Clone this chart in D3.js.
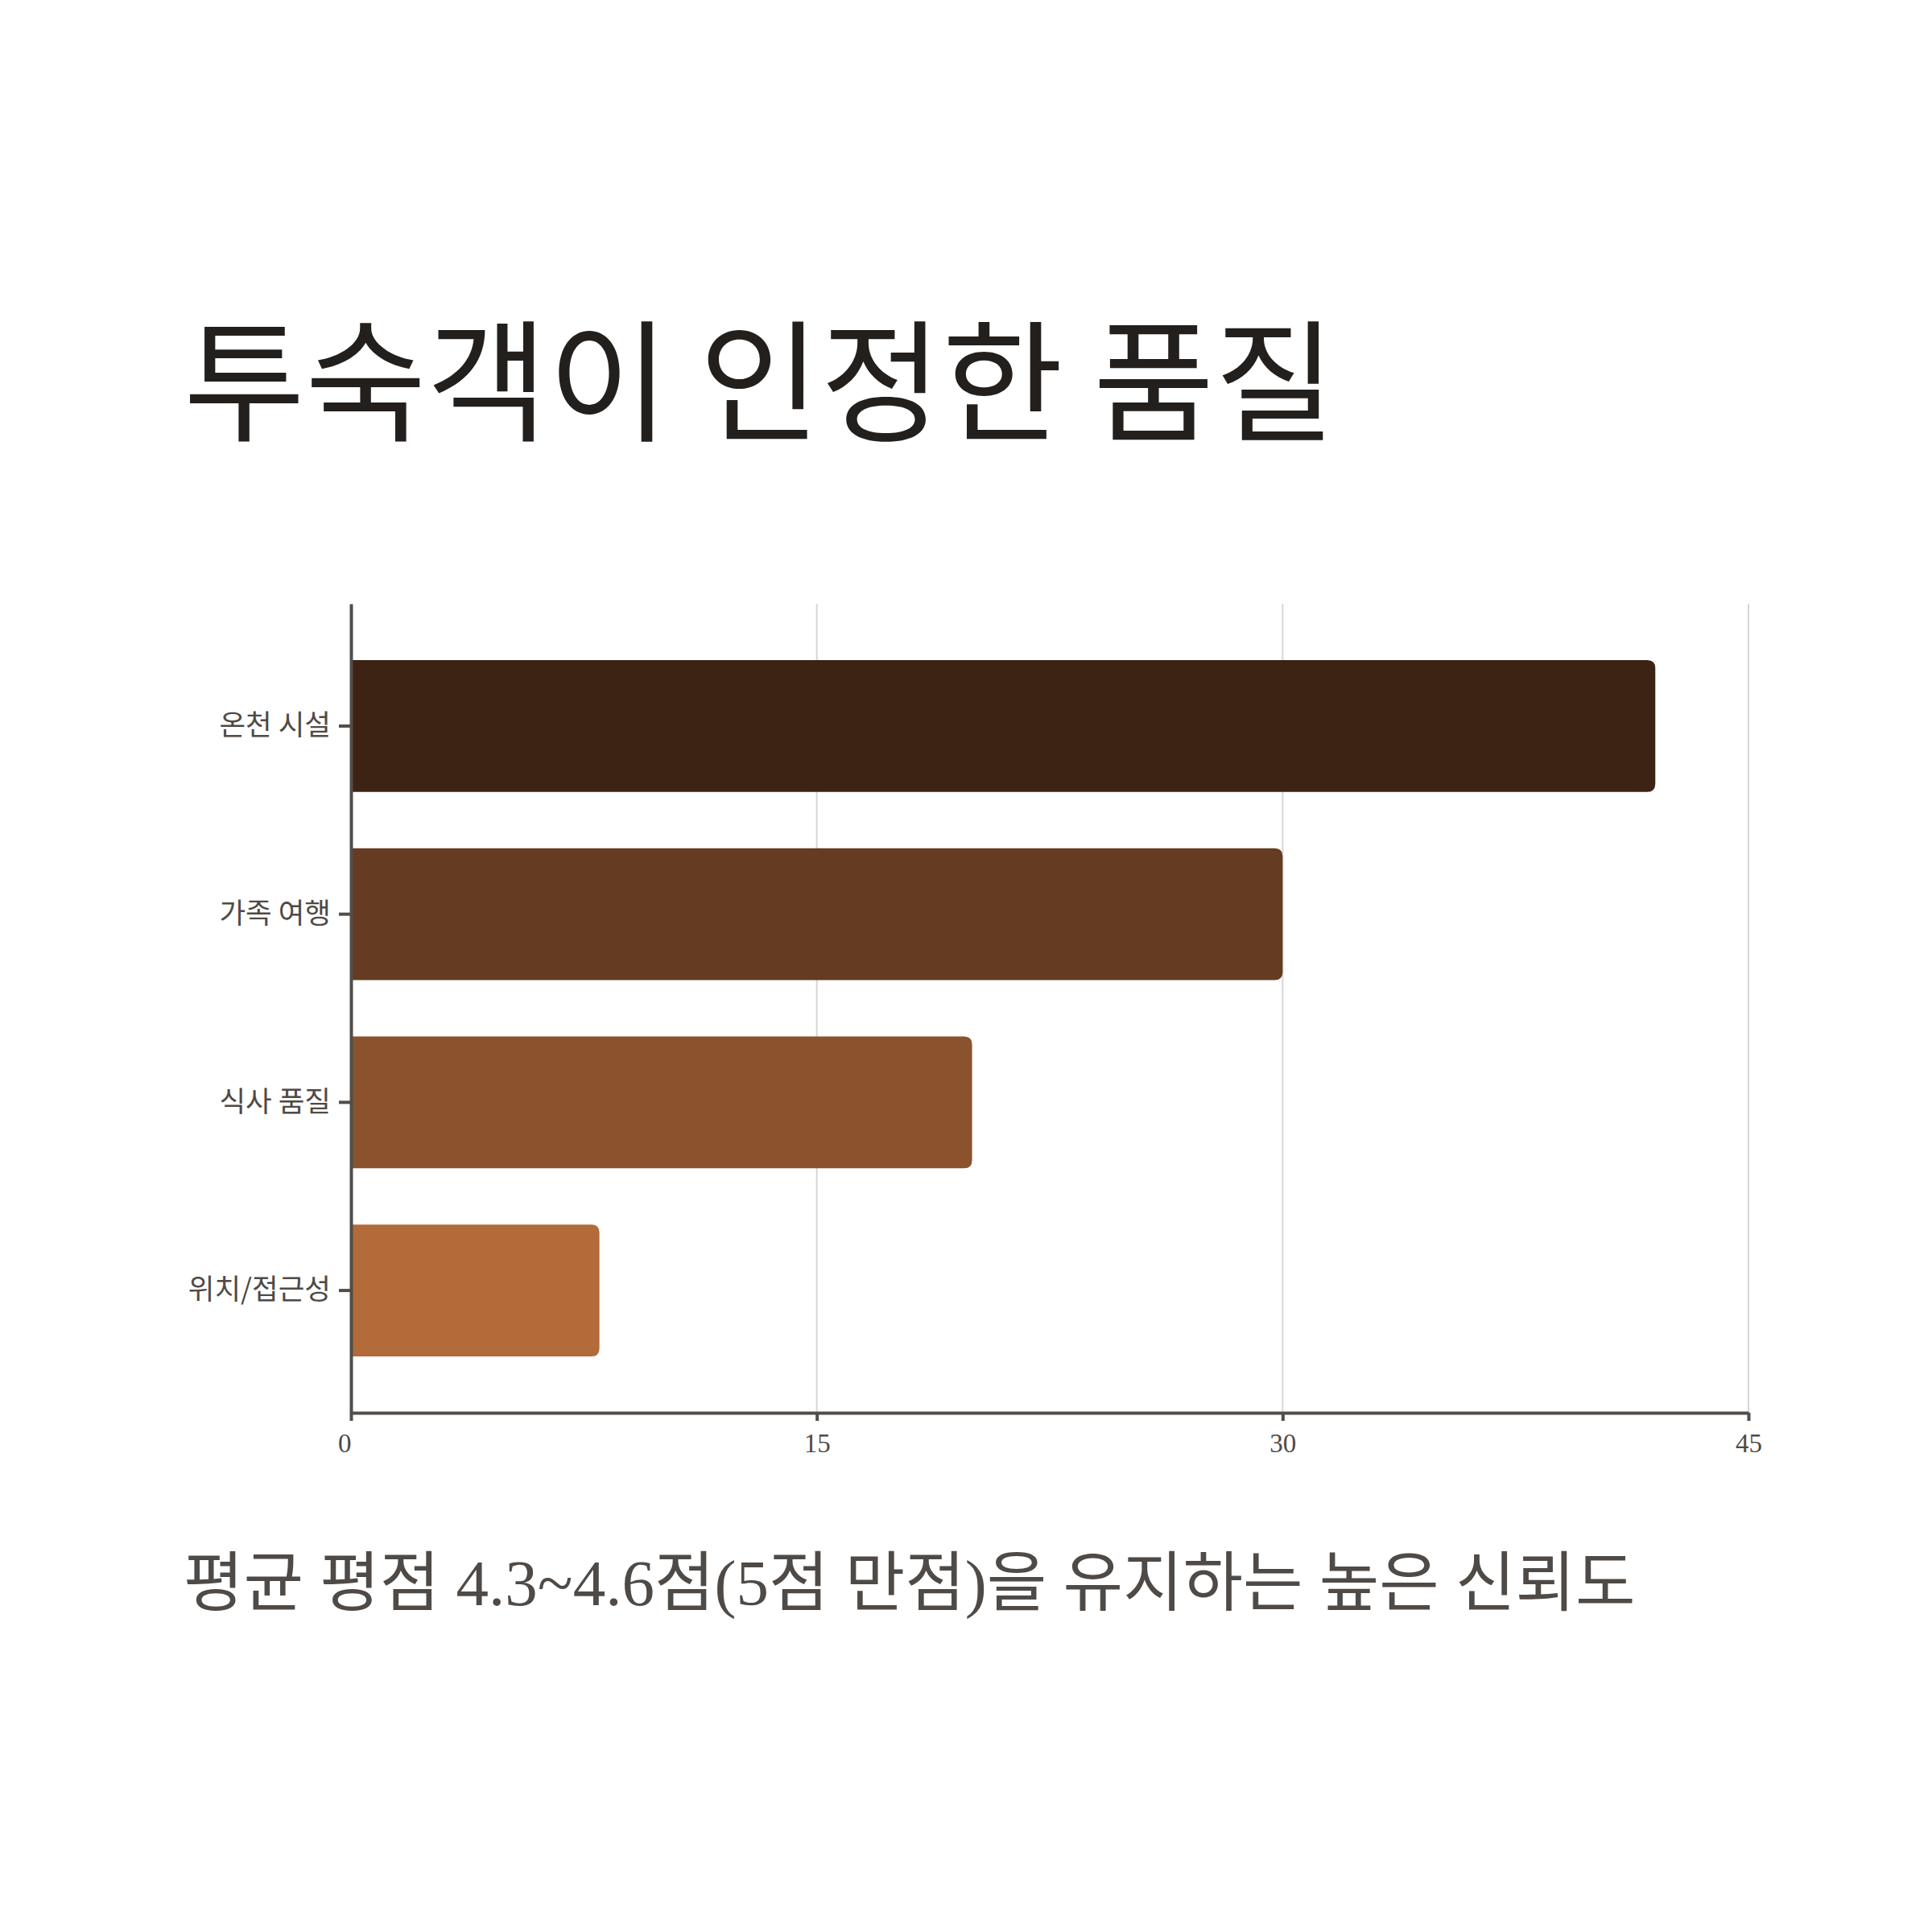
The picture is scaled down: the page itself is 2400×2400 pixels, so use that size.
<!DOCTYPE html>
<html>
<head>
<meta charset="utf-8">
<script src="https://cdn.jsdelivr.net/npm/d3@7"></script>
<style>
  body { margin: 0; background: #fff; }
  .title { font-family: "Noto Sans CJK KR", sans-serif; fill: #231f1c; }
  .subtitle { font-family: "Liberation Serif", "Noto Sans CJK KR", serif; fill: #4f4a46; }
  .yAxis text { font-family: "Noto Sans CJK KR", sans-serif; fill: #4f4a46; }
  .xAxis text { font-family: "Liberation Serif", serif; fill: #4f4a46; }
</style>
</head>
<body>
<div id="chart"></div>
<script>
// Data
const categories = ['온천 시설', '가족 여행', '식사 품질', '위치/접근성'];
const values = [42, 30, 20, 8];
const barColors = ['#3d2314', '#653b21', '#8b532d', '#b36b3a'];
const xTicks = [0, 15, 30, 45];
const titleText = '투숙객이 인정한 품질';
const subtitleText = '평균 평점 4.3~4.6점(5점 만점)을 유지하는 높은 신뢰도';

const W = 2400, H = 2400;
const margin = { top: 750, left: 436, right: 228, bottom: 645 };
const width = W - margin.left - margin.right,
    height = H - margin.top - margin.bottom;

const data = categories.map((c, i) => ({ cat: c, value: values[i], color: barColors[i] }));

let svg = d3.select('#chart')
    .append('svg')
    .attr('width', W)
    .attr('height', H)
    .attr('viewBox', [0, 0, W, H].join(' '));

// Title and subtitle
svg.append('text')
    .attr('class', 'title')
    .attr('x', 228)
    .attr('y', 535)
    .style('font-size', '164px')
    .text(titleText);

svg.append('text')
    .attr('class', 'subtitle')
    .attr('x', 228)
    .attr('y', 1994)
    .style('font-size', '81px')
    .text(subtitleText);

const g = svg.append('g')
    .attr('transform', 'translate(' + margin.left + ',' + margin.top + ')');

const xScale = d3.scaleLinear()
    .domain([0, 45])
    .range([0, width]);

const yScale = d3.scaleBand()
    .domain(categories)
    .range([0, height])
    .padding(0.3);

// Vertical grid lines
g.append('g')
    .selectAll('line')
    .data(xTicks.filter(d => d > 0))
    .enter()
    .append('line')
    .attr('x1', d => xScale(d))
    .attr('x2', d => xScale(d))
    .attr('y1', 0)
    .attr('y2', height)
    .attr('stroke', '#d6d6d6')
    .attr('stroke-width', 2);

// Bars with rounded right end
const r = 10;
function barPath(d) {
    const x0 = xScale(0), x1 = xScale(d.value),
        y0 = yScale(d.cat), y1 = y0 + yScale.bandwidth();
    return 'M' + x0 + ',' + y0 +
        'H' + (x1 - r) +
        'Q' + x1 + ',' + y0 + ' ' + x1 + ',' + (y0 + r) +
        'V' + (y1 - r) +
        'Q' + x1 + ',' + y1 + ' ' + (x1 - r) + ',' + y1 +
        'H' + x0 + 'Z';
}

g.append('g')
    .selectAll('path')
    .data(data)
    .enter()
    .append('path')
    .attr('d', barPath)
    .attr('fill', d => d.color);

// X axis
const xAxis = g.append('g')
    .attr('class', 'xAxis')
    .attr('transform', 'translate(0,' + height + ')')
    .call(d3.axisBottom(xScale).tickValues(xTicks).tickSize(10).tickSizeOuter(0).tickPadding(16));

// first label sits left of its tick
xAxis.selectAll('.tick text')
    .attr('text-anchor', (d, i) => i === 0 ? 'end' : 'middle');

// Y axis
const yAxis = g.append('g')
    .attr('class', 'yAxis')
    .call(d3.axisLeft(yScale).tickSize(15).tickSizeOuter(0).tickPadding(10));

[xAxis, yAxis].forEach(a => {
    a.select('.domain').attr('stroke', '#524d49').attr('stroke-width', 4);
    a.selectAll('.tick line').attr('stroke', '#524d49').attr('stroke-width', 4);
});

xAxis.selectAll('text').style('font-size', '33px');
yAxis.selectAll('text').style('font-size', '35.5px');
</script>
</body>
</html>
